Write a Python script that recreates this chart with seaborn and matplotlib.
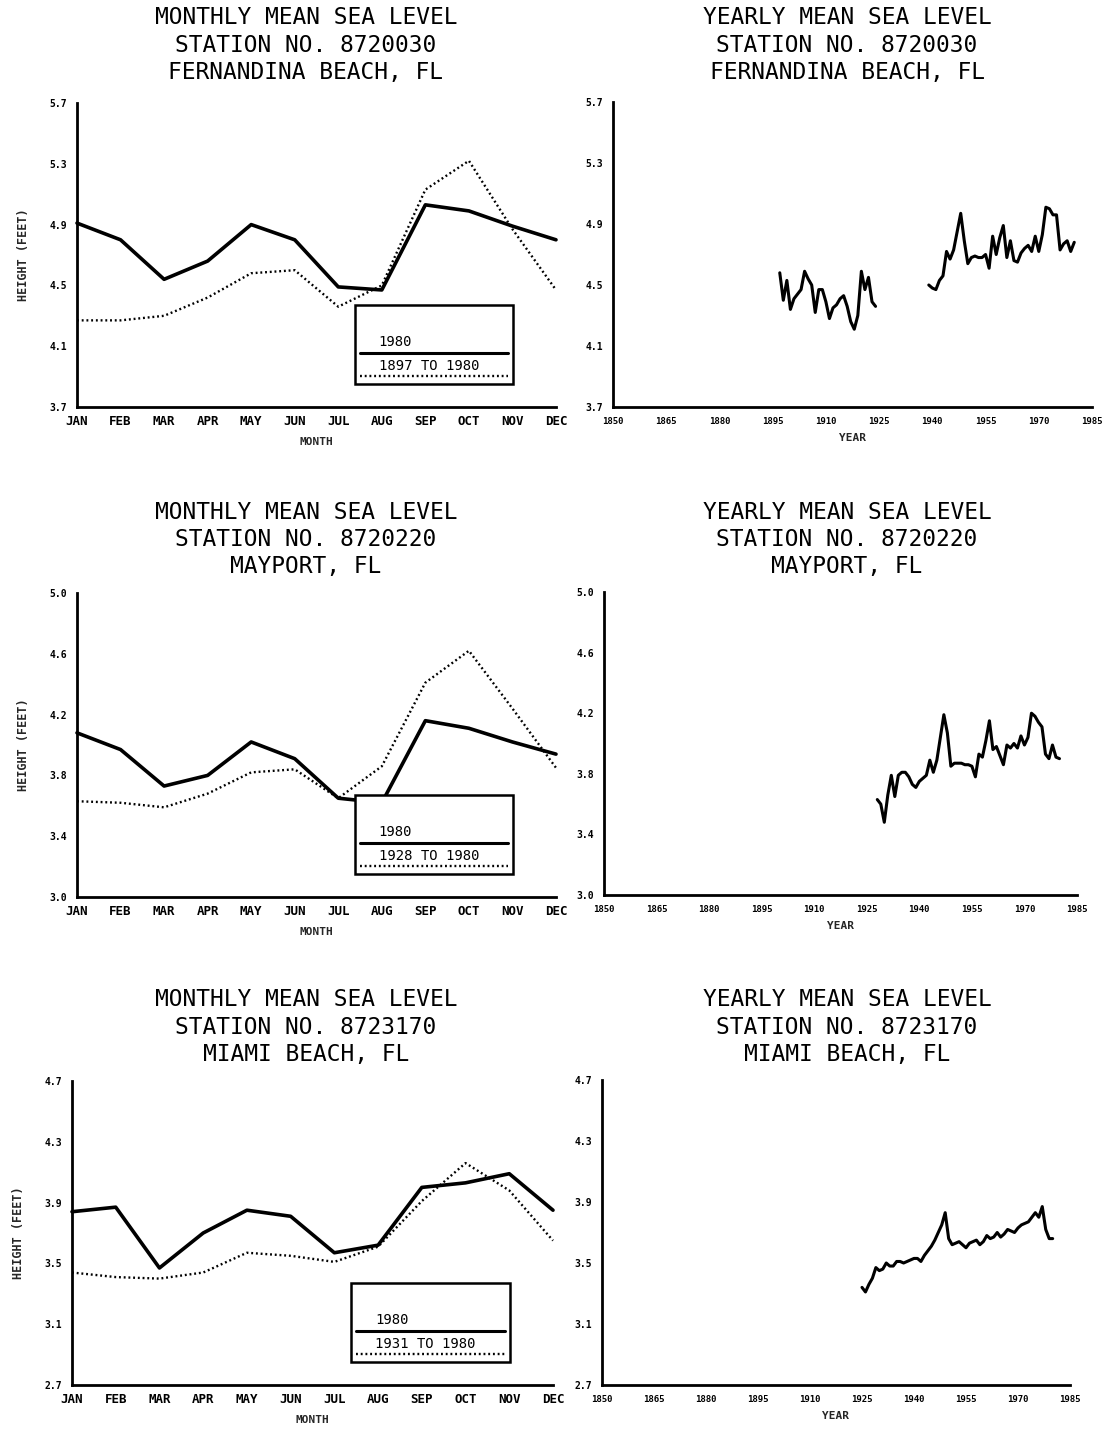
import numpy as np
import pandas as pd
import matplotlib
matplotlib.use("Agg")
import matplotlib.pyplot as plt
from matplotlib.ticker import MultipleLocator, FixedLocator, FormatStrFormatter
import seaborn as sns

# ---------------------------------------------------------------- data
months = ["JAN", "FEB", "MAR", "APR", "MAY", "JUN",
          "JUL", "AUG", "SEP", "OCT", "NOV", "DEC"]

# Fernandina Beach, FL  (station 8720030)
fb_1980 = [4.91, 4.80, 4.54, 4.66, 4.90, 4.80, 4.49, 4.47, 5.03, 4.99, 4.89, 4.80]
fb_mean = [4.27, 4.27, 4.30, 4.42, 4.58, 4.60, 4.36, 4.50, 5.13, 5.32, 4.87, 4.47]
fb_years_a = list(range(1897, 1925))
fb_level_a = [4.58, 4.40, 4.53, 4.34, 4.41, 4.44, 4.47, 4.59, 4.54, 4.50,
              4.32, 4.47, 4.47, 4.39, 4.28, 4.35, 4.37, 4.41, 4.43, 4.36,
              4.26, 4.21, 4.30, 4.59, 4.47, 4.55, 4.39, 4.36]
fb_years_b = list(range(1939, 1981))
fb_level_b = [4.50, 4.48, 4.47, 4.53, 4.56, 4.72, 4.67, 4.73, 4.85, 4.97,
              4.79, 4.64, 4.68, 4.69, 4.68, 4.68, 4.70, 4.61, 4.82, 4.70,
              4.81, 4.89, 4.68, 4.79, 4.66, 4.65, 4.71, 4.74, 4.76, 4.72,
              4.82, 4.72, 4.83, 5.01, 5.00, 4.96, 4.96, 4.73, 4.77, 4.79,
              4.72, 4.78]

# Mayport, FL  (station 8720220)
mp_1980 = [4.08, 3.97, 3.73, 3.80, 4.02, 3.91, 3.65, 3.62, 4.16, 4.11, 4.02, 3.94]
mp_mean = [3.63, 3.62, 3.59, 3.68, 3.82, 3.84, 3.65, 3.86, 4.41, 4.62, 4.24, 3.85]
mp_years = list(range(1928, 1981))
mp_level = [3.63, 3.60, 3.48, 3.66, 3.79, 3.65, 3.79, 3.81, 3.81, 3.78,
            3.73, 3.71, 3.75, 3.77, 3.79, 3.89, 3.81, 3.89, 4.04, 4.19,
            4.07, 3.85, 3.87, 3.87, 3.87, 3.86, 3.86, 3.85, 3.78, 3.93,
            3.91, 4.02, 4.15, 3.96, 3.98, 3.92, 3.86, 3.99, 3.97, 4.00,
            3.97, 4.05, 3.99, 4.04, 4.20, 4.18, 4.14, 4.11, 3.93, 3.90,
            3.99, 3.91, 3.90]

# Miami Beach, FL  (station 8723170)
mb_1980 = [3.84, 3.87, 3.47, 3.70, 3.85, 3.81, 3.57, 3.62, 4.00, 4.03, 4.09, 3.85]
mb_mean = [3.44, 3.41, 3.40, 3.44, 3.57, 3.55, 3.51, 3.61, 3.91, 4.16, 3.98, 3.65]
mb_years = list(range(1925, 1981))
mb_level = [3.34, 3.31, 3.36, 3.40, 3.47, 3.45, 3.46, 3.50, 3.48, 3.48,
            3.51, 3.51, 3.50, 3.51, 3.52, 3.53, 3.53, 3.51, 3.55, 3.58,
            3.61, 3.65, 3.70, 3.75, 3.83, 3.66, 3.62, 3.63, 3.64, 3.62,
            3.60, 3.63, 3.64, 3.65, 3.62, 3.64, 3.68, 3.66, 3.67, 3.70,
            3.67, 3.69, 3.72, 3.71, 3.70, 3.73, 3.75, 3.76, 3.77, 3.80,
            3.83, 3.80, 3.87, 3.72, 3.66, 3.66]

year_ticks = [1850, 1865, 1880, 1895, 1910, 1925, 1940, 1955, 1970, 1985]

stations = [
    dict(no="8720030", name="FERNANDINA BEACH, FL", ylo=3.7, yhi=5.7,
         m1980=fb_1980, mean=fb_mean, period="1897 TO 1980",
         segments=[(fb_years_a, fb_level_a), (fb_years_b, fb_level_b)]),
    dict(no="8720220", name="MAYPORT, FL", ylo=3.0, yhi=5.0,
         m1980=mp_1980, mean=mp_mean, period="1928 TO 1980",
         segments=[(mp_years, mp_level)]),
    dict(no="8723170", name="MIAMI BEACH, FL", ylo=2.7, yhi=4.7,
         m1980=mb_1980, mean=mb_mean, period="1931 TO 1980",
         segments=[(mb_years, mb_level)]),
]

# ---------------------------------------------------------------- layout
W, H = 1110, 1439
sns.set_theme(style="white")
plt.rcParams["font.family"] = ["DejaVu Sans Mono", "DejaVu Sans"]
plt.rcParams["axes.linewidth"] = 2.0

fig = plt.figure(figsize=(W / 100, H / 100), dpi=100)
fig.patch.set_facecolor("white")


def rect(left, right, top, bottom):
    return [left / W, 1 - bottom / H, (right - left) / W, (bottom - top) / H]


monthly_boxes = [(77, 556, 103, 407), (77, 556, 593, 897), (72, 553, 1081, 1385)]
yearly_boxes = [(613, 1092, 102, 407), (604, 1077, 592, 895), (602, 1070, 1080, 1385)]
title_tops = [18, 512, 1000]

DOT = (0, (0.8, 1.2))
INK = "black"


def style_axis(ax, st):
    lo, hi = st["ylo"], st["yhi"]
    ax.set_ylim(lo, hi)
    ax.yaxis.set_major_locator(FixedLocator([lo + 0.4 * k for k in range(6)]))
    ax.yaxis.set_minor_locator(FixedLocator([lo + 0.2 + 0.4 * k for k in range(5)]))
    ax.yaxis.set_major_formatter(FormatStrFormatter("%.1f"))
    for side in ("top", "right"):
        ax.spines[side].set_visible(False)
    for side in ("left", "bottom"):
        ax.spines[side].set_color(INK)
        ax.spines[side].set_linewidth(2.0)
    ax.tick_params(axis="y", which="major", direction="out", length=5,
                   width=1.8, colors=INK, labelsize=7, pad=2)
    ax.tick_params(axis="y", which="minor", direction="out", length=3,
                   width=1.5, colors=INK)
    for lab in ax.get_yticklabels():
        lab.set_fontweight("bold")
    ax.set_facecolor("white")
    ax.grid(False)


for i, st in enumerate(stations):
    # ---------------- monthly panel
    ax = fig.add_axes(rect(*monthly_boxes[i]))
    df = pd.DataFrame({"month": np.arange(12), "y1980": st["m1980"], "mean": st["mean"]})
    sns.lineplot(data=df, x="month", y="mean", ax=ax, color=INK, lw=1.7,
                 linestyle=DOT, clip_on=False)
    sns.lineplot(data=df, x="month", y="y1980", ax=ax, color=INK, lw=2.6,
                 clip_on=False)
    ax.set_xlim(0, 11)
    ax.xaxis.set_major_locator(FixedLocator(range(12)))
    ax.set_xticklabels(months, fontsize=9, fontweight="bold")
    ax.tick_params(axis="x", which="major", direction="out", length=3,
                   width=1.5, colors=INK, pad=3)
    style_axis(ax, st)
    ax.set_xlabel("MONTH", fontsize=8, fontweight="bold", labelpad=6)
    ax.set_ylabel("HEIGHT (FEET)", fontsize=8.5, fontweight="bold", labelpad=14)

    # key box
    tr = ax.transAxes
    ax.add_patch(plt.Rectangle((0.58, 0.075), 0.33, 0.26, transform=tr,
                               fill=True, facecolor="white", edgecolor=INK,
                               lw=1.8, zorder=5))
    ax.plot([0.59, 0.90], [0.178, 0.178], transform=tr, color=INK, lw=2.2, zorder=6)
    ax.plot([0.59, 0.90], [0.102, 0.102], transform=tr, color=INK, lw=1.7,
            linestyle=DOT, zorder=6)
    ax.text(0.63, 0.19, "1980", transform=tr, fontsize=10, ha="left",
            va="bottom", color=INK, zorder=6)
    ax.text(0.63, 0.113, st["period"], transform=tr, fontsize=10, ha="left",
            va="bottom", color=INK, zorder=6)

    # ---------------- yearly panel
    ax2 = fig.add_axes(rect(*yearly_boxes[i]))
    for yrs, lev in st["segments"]:
        seg = pd.DataFrame({"year": yrs, "level": lev})
        sns.lineplot(data=seg, x="year", y="level", ax=ax2, color=INK, lw=2.2)
    ax2.set_xlim(1850, 1985)
    ax2.xaxis.set_major_locator(FixedLocator(year_ticks))
    ax2.xaxis.set_minor_locator(MultipleLocator(5))
    ax2.set_xticklabels([str(y) for y in year_ticks], fontsize=6.5, fontweight="bold")
    ax2.tick_params(axis="x", which="major", direction="out", length=4,
                    width=1.5, colors=INK, pad=3)
    ax2.tick_params(axis="x", which="minor", direction="out", length=2,
                    width=1.0, colors=INK)
    style_axis(ax2, st)
    ax2.set_xlabel("YEAR", fontsize=8, fontweight="bold", labelpad=5)
    ax2.set_ylabel("")

    # ---------------- titles
    t0 = title_tops[i]
    for col_x, head in ((306 / W, "MONTHLY MEAN SEA LEVEL"), (847 / W, "YEARLY MEAN SEA LEVEL")):
        for k, line in enumerate((head, "STATION NO. " + st["no"], st["name"])):
            fig.text(col_x, 1 - (t0 + 27 * k) / H, line, ha="center", va="center",
                     fontsize=16.5, color=INK)

fig.savefig("out.png", dpi=100, facecolor="white")
